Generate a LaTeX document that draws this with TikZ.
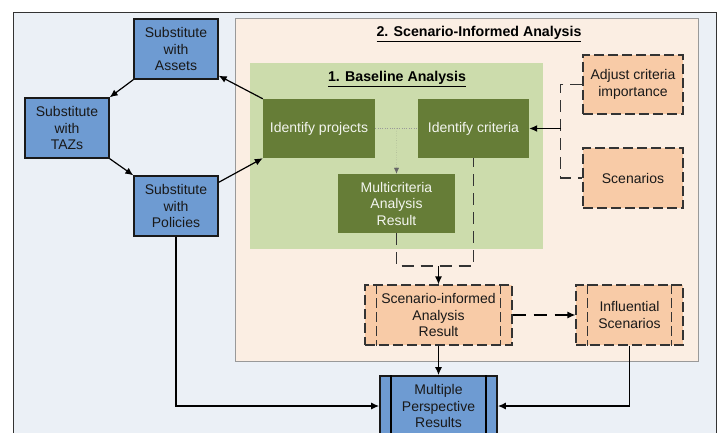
\documentclass[tikz,border=0pt]{standalone}
\usepackage{fontspec}
\setmainfont{Liberation Sans}
\usetikzlibrary{arrows.meta, positioning, calc}

\definecolor{frameblue}{HTML}{EBF0F6}
\definecolor{scenfill}{HTML}{FBEEE3}
\definecolor{basefill}{HTML}{CCDCAC}
\definecolor{darkolive}{HTML}{667D37}
\definecolor{peach}{HTML}{F8CBA7}
\definecolor{boxblue}{HTML}{6E9BD2}

\begin{document}
\begin{tikzpicture}[x=1pt, y=-1pt,
  every node/.style={font=\fontsize{14}{16.5}\selectfont, align=center, inner sep=0pt},
  title/.style={font=\fontsize{14.2}{16}\selectfont\bfseries},
  subst/.style={draw=black!90, line width=1.3pt, fill=boxblue, text=black!90,
    minimum width=84pt, minimum height=60pt},
  basebox/.style={fill=darkolive, text=white!92!darkolive},
  scenbox/.style={draw=black!80, line width=1.2pt, fill=peach, text=black!90,
    dash pattern=on 10pt off 4pt},
  dashline/.style={draw=black!80, line width=1.2pt, dash pattern=on 12pt off 7pt},
  arr/.style={line width=1.2pt, -{Latex[length=8pt, width=7pt]}}
]
  \clip (0,0) rectangle (718,433);

  % frame and the two analysis regions
  \draw[fill=frameblue, draw=black!80, line width=0.8pt] (13,12) rectangle (716,450);
  \draw[fill=scenfill, draw=black!40, line width=0.8pt] (235,18) rectangle (698,361);
  \fill[basefill] (250,63) rectangle (543,249);
  \node[title] (scentitle) at (479,34) {\underline{2. Scenario-Informed Analysis}};
  \node[title] (basetitle) at (397,79) {\underline{1. Baseline Analysis}};

  % substitution loop
  \node[subst] (assets) at (176,49) {Substitute\\with\\Assets};
  \node[subst] (tazs) at (67,128) {Substitute\\with\\TAZs};
  \node[subst] (policies) at (176,206) {Substitute\\with\\Policies};

  % baseline analysis
  \node[basebox, minimum width=112pt, minimum height=59pt] (projects) at (319,128.5) {Identify projects};
  \node[basebox, minimum width=111pt, minimum height=59pt] (criteria) at (473.5,128.5) {Identify criteria};
  \node[basebox, minimum width=117pt, minimum height=59pt] (mar) at (396.5,203.5) {Multicriteria\\Analysis\\Result};

  % scenario inputs and results
  \node[scenbox, minimum width=100pt, minimum height=59pt] (adjust) at (633,84.5) {Adjust criteria\\importance};
  \node[scenbox, minimum width=100pt, minimum height=60pt] (scen) at (633,178) {Scenarios};
  \node[scenbox, minimum width=147pt, minimum height=60pt] (siar) at (438.5,315) {Scenario-informed\\Analysis\\Result};
  \node[scenbox, minimum width=107pt, minimum height=60pt] (infl) at (629.5,315) {Influential\\Scenarios};
  \node[subst, line width=1.8pt, minimum width=117pt] (mpr) at (438.5,406) {Multiple\\Perspective\\Results};

  % side bars
  \foreach \n in {siar, infl} {
    \draw[scenbox, fill=none] ([xshift=12pt]\n.north west) -- ([xshift=12pt]\n.south west);
    \draw[scenbox, fill=none] ([xshift=-12pt]\n.north east) -- ([xshift=-12pt]\n.south east);
  }
  \draw[line width=1.8pt] ([xshift=12pt]mpr.north west) -- ([xshift=12pt]mpr.south west);
  \draw[line width=1.8pt] ([xshift=-12pt]mpr.north east) -- ([xshift=-12pt]mpr.south east);

  % connectors
  \draw[arr] (assets.south west) -- (tazs.north east);
  \draw[arr] (tazs.south east) -- (policies.north west);
  \draw[arr] (policies.29) -- (projects.south west);
  \draw[arr] (projects.north west) -- (assets.-32);

  \coordinate (split) at ($(projects.east)!0.5!(criteria.west)$);
  \draw[black!40, dotted] (projects.east) -- (criteria.west);
  \draw[black!60, dotted, -{Latex[length=6pt, width=5pt]}] (split) -- (mar.north);

  \coordinate (brk) at (561,128.5);
  \draw[dashline] (adjust.west) -- ++(-22,0) |- (scen.west);
  \draw[arr] (brk) -- (criteria.east);

  \coordinate (join) at (438.5,266);
  \draw[dashline] (mar.south) |- (join) -| (criteria.south);
  \draw[arr] (join) -- (siar.north);
  \draw[arr, dash pattern=on 13pt off 8pt] (siar.east) -- (infl.west);
  \draw[arr] (siar.south) -- (mpr.north);
  \draw[arr] (infl.south) |- (mpr.east);
  \draw[arr] (policies.south) |- (mpr.west);
\end{tikzpicture}
\end{document}
